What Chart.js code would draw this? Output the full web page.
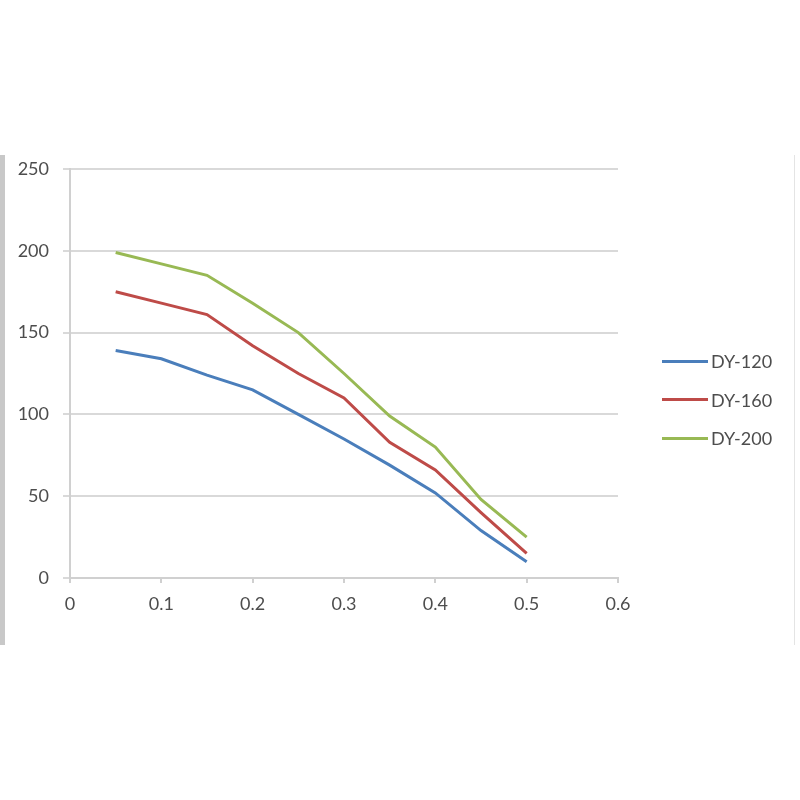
<!DOCTYPE html>
<html lang="en">
<head>
    <meta charset="UTF-8">
    <title>DY series</title>
    <script src="https://cdn.jsdelivr.net/npm/chart.js@4.4.0/dist/chart.umd.min.js"></script>
    <style>
        body {
            margin: 0;
            background: #ffffff;
        }
        .wrap {
            position: relative;
            width: 800px;
            height: 800px;
        }
        .frame {
            position: absolute;
            left: 0;
            top: 155px;
            width: 795px;
            height: 490px;
            border-left: 5px solid #c8c8c8;
            border-right: 1px solid #e4e4e4;
            box-sizing: border-box;
        }
        canvas {
            position: absolute;
            left: 0;
            top: 0;
        }
        .legend {
            position: absolute;
            left: 662px;
            top: 342px;
            font-family: Lato, 'Open Sans', sans-serif;
            font-size: 18px;
            color: #4d4d4d;
        }
        .legend div {
            height: 38.5px;
            display: flex;
            align-items: center;
        }
        .legend span.sw {
            display: inline-block;
            width: 46px;
            height: 3px;
            margin-right: 3px;
        }
    </style>
</head>
<body>
    <div class="wrap">
        <div class="frame"></div>
        <canvas id="chart" width="800" height="800"></canvas>
        <div class="legend" id="legend"></div>
    </div>

    <script>
        // values
        const xValues = [0.05, 0.1, 0.15, 0.2, 0.25, 0.3, 0.35, 0.4, 0.45, 0.5];
        const dy120 = [139, 134, 124, 115, 100, 85, 69, 52, 29, 10];
        const dy160 = [175, 168, 161, 142, 125, 110, 83, 66, 40, 15];
        const dy200 = [199, 192, 185, 168, 150, 125, 99, 80, 48, 25];
        const seriesNames = ['DY-120', 'DY-160', 'DY-200'];
        const seriesColors = ['#4a7ebb', '#be4b48', '#98b954'];
        const xTicks = [0, 0.1, 0.2, 0.3, 0.4, 0.5, 0.6];
        const yTicks = [0, 50, 100, 150, 200, 250];

        const allSeries = [dy120, dy160, dy200];
        const datasets = allSeries.map(function(vals, i) {
            return {
                label: seriesNames[i],
                data: vals.map(function(v, j) { return { x: xValues[j], y: v }; }),
                borderColor: seriesColors[i],
                backgroundColor: seriesColors[i],
                borderWidth: 3,
                pointRadius: 0,
                tension: 0,
                fill: false
            };
        });

        const tickFont = { family: "Lato, 'Open Sans', sans-serif", size: 18 };

        new Chart(document.getElementById('chart'), {
            type: 'line',
            data: { datasets: datasets },
            options: {
                responsive: false,
                animation: false,
                layout: {
                    padding: { top: 169, bottom: 182, left: 0, right: 182 }
                },
                plugins: {
                    legend: { display: false },
                    tooltip: { enabled: false }
                },
                scales: {
                    x: {
                        type: 'linear',
                        min: 0,
                        max: 0.6,
                        afterBuildTicks: function(axis) {
                            axis.ticks = xTicks.map(function(v) { return { value: v }; });
                        },
                        ticks: {
                            color: '#4d4d4d',
                            font: tickFont,
                            padding: 10,
                            callback: function(v) { return String(Number(v.toFixed(1))); }
                        },
                        grid: {
                            drawOnChartArea: false,
                            color: '#d0d0d0',
                            lineWidth: 2,
                            tickLength: 5
                        },
                        border: { color: '#d0d0d0', width: 2 },
                        afterFit: function(axis) { axis.height = 40; }
                    },
                    y: {
                        min: 0,
                        max: 250,
                        afterBuildTicks: function(axis) {
                            axis.ticks = yTicks.map(function(v) { return { value: v }; });
                        },
                        ticks: {
                            color: '#4d4d4d',
                            font: tickFont,
                            padding: 14
                        },
                        grid: {
                            color: '#d9d9d9',
                            lineWidth: 2,
                            tickLength: 7
                        },
                        border: { color: '#d0d0d0', width: 2 },
                        afterFit: function(axis) { axis.width = 70; }
                    }
                }
            }
        });

        // legend built from the series arrays
        const legend = document.getElementById('legend');
        seriesNames.forEach(function(name, i) {
            const row = document.createElement('div');
            const sw = document.createElement('span');
            sw.className = 'sw';
            sw.style.background = seriesColors[i];
            row.appendChild(sw);
            row.appendChild(document.createTextNode(name));
            legend.appendChild(row);
        });
    </script>
</body>
</html>
